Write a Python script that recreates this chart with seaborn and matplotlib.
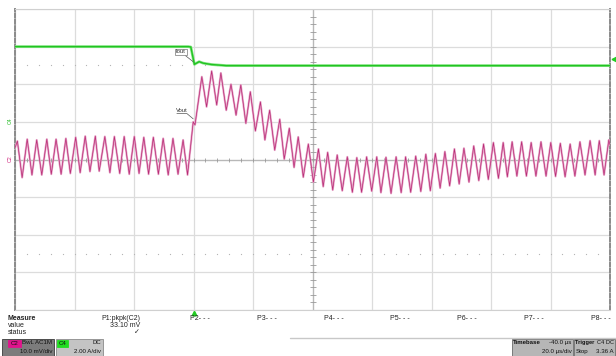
import numpy as np
import pandas as pd
import matplotlib
matplotlib.use("Agg")
import matplotlib.pyplot as plt
from matplotlib.patches import Rectangle
import seaborn as sns

# ---------------- data ----------------
# C2: Vout (AC coupled), time in microseconds, value in mV (peaks/troughs of the ripple)
t_vout_us = [-60.0, -59.2, -57.6, -55.9, -54.3, -52.7, -51.0, -49.3, -47.8, -46.2,
             -44.5, -42.9, -41.4, -39.6, -38.1, -36.4, -34.8, -33.0, -31.7, -29.8,
             -28.1, -26.6, -24.8, -23.3, -21.6, -19.9, -18.3, -16.7, -15.1, -13.5,
             -11.8, -10.2, -8.5, -6.9, -5.2, -3.5, -2.0, -0.1, 0.5, 2.8,
             4.4, 6.1, 7.8, 9.2, 11.0, 12.6, 14.3, 15.9, 17.6, 19.1,
             20.8, 22.5, 24.0, 25.6, 27.3, 29.0, 30.5, 32.2, 33.8, 35.2,
             36.9, 38.6, 40.3, 42.0, 43.6, 45.1, 46.8, 48.3, 50.0, 51.7,
             53.4, 54.9, 56.5, 58.2, 59.9, 61.6, 63.0, 64.7, 66.4, 68.1,
             69.8, 71.3, 73.0, 74.7, 76.4, 78.1, 79.6, 81.3, 82.9, 84.5,
             86.1, 87.7, 89.3, 90.9, 92.6, 94.2, 95.9, 97.5, 99.1, 100.8,
             102.5, 104.1, 105.5, 107.1, 108.7, 110.3, 111.9, 113.5, 115.1, 116.8,
             118.5, 120.1, 121.7, 123.3, 124.9, 126.6, 128.2, 129.9, 131.6, 133.3,
             135.0, 136.4, 138.0, 139.6, 140.0]
vout_mV = [3.1, 4.9, -4.8, 5.4, -4.1, 5.2, -4.1, 5.4, -3.9, 5.4,
           -3.9, 5.6, -3.7, 5.9, -3.5, 6.2, -3.2, 6.2, -3.1, 6.1,
           -3.5, 6.1, -3.7, 6.1, -3.9, 6.1, -3.7, 5.9, -3.9, 5.9,
           -3.9, 5.6, -4.1, 5.6, -3.9, 5.2, -4.1, 10.0, 9.2, 22.0,
           14.0, 23.5, 14.5, 23.0, 13.1, 20.0, 11.8, 19.8, 9.6, 18.0,
           7.6, 15.3, 5.2, 13.1, 2.5, 10.7, 0.1, 8.3, -2.1, 6.0,
           -4.7, 4.1, -6.0, 2.8, -7.2, 1.9, -8.1, 1.2, -8.3, 0.7,
           -8.7, 0.5, -8.7, 0.7, -8.4, 0.7, -8.8, 0.6, -9.0, 0.7,
           -8.8, 0.7, -8.7, 0.9, -8.5, 1.4, -8.3, 1.6, -7.6, 2.1,
           -7.0, 2.8, -6.5, 3.0, -6.0, 3.6, -5.6, 4.1, -5.3, 4.5,
           -5.0, 4.5, -4.6, 4.7, -4.4, 4.7, -4.4, 4.5, -4.4, 4.7,
           -4.4, 4.5, -4.5, 4.3, -4.6, 4.1, -4.4, 4.7, -4.1, 5.0,
           -4.1, 5.0, -4.1, 5.2, 3.9]

# C4: Iout (DC), time in microseconds, value in A
t_iout_us = [-60.0, -1.7, -0.9, 0.3, 1.9, 3.3, 6.0, 11.0, 140.0]
iout_A = [4.00, 4.00, 3.98, 3.06, 3.20, 3.12, 3.05, 2.99, 2.99]

# scope settings
c2_scale_mV_div = 10.0
c4_scale_A_div = 2.0
c2_offset_div = 0.0
c4_offset_div = 1.0
time_scale_us_div = 20.0
time_left_us = -60.0
trigger_level_A = 3.36

measure_labels = ["P1:pkpk(C2)", "P2- - -", "P3- - -", "P4- - -",
                  "P5- - -", "P6- - -", "P7- - -", "P8- - -"]
measure_value = "33.10 mV"

assert len(t_vout_us) == len(vout_mV)

# ---------------- build frames ----------------
df_c2 = pd.DataFrame({"t": t_vout_us,
                      "div": np.array(vout_mV) / c2_scale_mV_div + c2_offset_div})
df_c4 = pd.DataFrame({"t": t_iout_us,
                      "div": np.array(iout_A) / c4_scale_A_div + c4_offset_div})

sns.set_theme(style="white")
plt.rcParams['font.family'] = ['Liberation Sans', 'DejaVu Sans']

W, H = 616, 356
fig = plt.figure(figsize=(W / 100, H / 100), dpi=100)
fig.patch.set_facecolor("white")

def fx(x):
    return x / W

def fy(y):
    return 1 - y / H

ax = fig.add_axes([fx(15), fy(310), (610 - 15) / W, (310 - 9) / H])
t_right = time_left_us + 10 * time_scale_us_div
ax.set_xlim(time_left_us, t_right)
ax.set_ylim(-4, 4)
ax.set_xticks(np.arange(time_left_us, t_right + 1, time_scale_us_div))
ax.set_yticks(np.arange(-4, 5, 1))
ax.grid(True, color="#dcdcdc", lw=0.9)
ax.tick_params(length=0, labelbottom=False, labelleft=False)

t_center = time_left_us + 5 * time_scale_us_div
ax.axhline(0, color="#b8b8b8", lw=0.9, zorder=1)
ax.axvline(t_center, color="#b8b8b8", lw=0.9, zorder=1)
# minor ticks on the centre lines
ym = np.arange(-4, 4.01, 0.2)
ax.plot([t_center] * len(ym), ym, ls="none", marker="_", ms=4, mew=0.6, color="#9a9a9a", zorder=1)
xm = np.arange(time_left_us, t_right + 0.01, time_scale_us_div / 5)
ax.plot(xm, [0] * len(xm), ls="none", marker="|", ms=2.5, mew=0.6, color="#9a9a9a", zorder=1)
for yy in (2.5, -2.5):
    ax.plot(xm, [yy] * len(xm), ls="none", marker="s", ms=0.8, mew=0, color="#b5b5b5", zorder=1)

for side in ("left", "right"):
    ax.spines[side].set_linestyle((0, (2.0, 1.2)))
    ax.spines[side].set_color("#8a8a8a")
    ax.spines[side].set_linewidth(1.4)
for side in ("top", "bottom"):
    ax.spines[side].set_color("#d0d0d0")
    ax.spines[side].set_linewidth(0.8)

# traces
sns.lineplot(data=df_c2, x="t", y="div", sort=False, estimator=None, ax=ax,
             color="#e7a3c7", lw=1.5, legend=False, zorder=3)
sns.lineplot(data=df_c2, x="t", y="div", sort=False, estimator=None, ax=ax,
             color="#b72a74", lw=0.5, legend=False, zorder=4)
sns.lineplot(data=df_c4, x="t", y="div", sort=False, estimator=None, ax=ax,
             color="#86e686", lw=2.0, legend=False, zorder=3)
sns.lineplot(data=df_c4, x="t", y="div", sort=False, estimator=None, ax=ax,
             color="#22c322", lw=1.0, legend=False, zorder=4)
ax.set_xlabel("")
ax.set_ylabel("")

# trigger markers
ax.plot([t_right + 1.2], [trigger_level_A / c4_scale_A_div + c4_offset_div], marker="<",
        ms=3.5, color="#22cc22", clip_on=False, ls="none")
ax.plot([0], [-4.08], marker="^", ms=3.2, color="#22cc22", clip_on=False, ls="none")

# trace labels
ax.annotate("Iout", xy=(0.2, 2.58), xytext=(-4.3, 2.86), fontsize=4.2, color="#333333",
            ha="center", va="center",
            bbox=dict(boxstyle="square,pad=0.15", fc="white", ec="#777777", lw=0.5),
            arrowprops=dict(arrowstyle="-", color="#555555", lw=0.5, shrinkA=0, shrinkB=0))
ax.text(-3.9, 1.31, "Vout", fontsize=4.2, color="#333333", ha="center", va="center", zorder=6)
ax.plot([-5.6, -2.2, -0.1], [1.22, 1.22, 1.08], color="#555555", lw=0.5, zorder=6)

# channel ground markers
fig.text(fx(10), fy(121), "C4", fontsize=3.8, color="#22bb22", rotation=90, ha="center", va="center")
fig.text(fx(10), fy(159), "C2", fontsize=3.8, color="#d0207a", rotation=90, ha="center", va="center")

# ---------------- measurement panel ----------------
fs = 5
fig.text(fx(8), fy(319), "Measure", fontsize=fs, fontweight="bold", va="center", color="#222222")
fig.text(fx(8), fy(325.5), "value", fontsize=fs, va="center", color="#222222")
fig.text(fx(8), fy(332), "status", fontsize=fs, va="center", color="#222222")
fig.text(fx(140), fy(319), measure_labels[0], fontsize=fs, ha="right", va="center", color="#222222")
fig.text(fx(140), fy(325.5), measure_value, fontsize=fs, ha="right", va="center", color="#222222")
fig.text(fx(136.5), fy(332), "\u2713", fontsize=fs, ha="center", va="center", color="#222222",
         family=["DejaVu Sans"])
for k, lab in enumerate(measure_labels[1:]):
    fig.text(fx(190 + 66.8 * k), fy(319), lab, fontsize=fs, ha="left", va="center", color="#222222")

fig.add_artist(plt.Line2D([fx(290), fx(616)], [fy(338), fy(338)], color="#c8c8c8", lw=1.0))

def box(x0, y0, x1, y1, fc, ec="#5a5a5a", lw=0.6):
    fig.add_artist(Rectangle((fx(x0), fy(y1)), fx(x1) - fx(x0), fy(y0) - fy(y1),
                             transform=fig.transFigure, fc=fc, ec=ec, lw=lw))

bfs = 4.4
# channel boxes
box(2, 338.5, 54, 357, "#7c7c7c", ec="#3a3a3a")
box(8, 340, 21, 346.5, "#e0148c", ec="#e0148c")
fig.text(fx(14.5), fy(343.3), "C2", fontsize=bfs, ha="center", va="center", color="#111111")
fig.text(fx(52.5), fy(342.5), "BwL AC1M", fontsize=bfs, ha="right", va="center", color="#111111")
fig.text(fx(52.5), fy(351.5), "10.0 mV/div", fontsize=bfs, ha="right", va="center", color="#111111")

box(55.5, 338.5, 103, 357, "#c4c4c4", ec="#8a8a8a")
box(57, 340, 68, 346.5, "#22dd22", ec="#22dd22")
fig.text(fx(62.5), fy(343.3), "C4", fontsize=bfs, ha="center", va="center", color="#111111")
fig.text(fx(101.5), fy(342.5), "DC", fontsize=bfs, ha="right", va="center", color="#111111")
fig.text(fx(101.5), fy(351.5), "2.00 A/div", fontsize=bfs, ha="right", va="center", color="#111111")

# timebase / trigger boxes
box(511.5, 338.5, 573, 357, "#b6b6b6", ec="#6a6a6a")
box(574, 338.5, 615, 357, "#b6b6b6", ec="#6a6a6a")
fig.text(fx(513), fy(342.5), "Timebase", fontsize=bfs, fontweight="bold", ha="left", va="center", color="#111111")
fig.text(fx(571.5), fy(342.5), "-40.0 \u00b5s", fontsize=bfs, ha="right", va="center", color="#111111")
fig.text(fx(571.5), fy(351.5), "20.0 \u00b5s/div", fontsize=bfs, ha="right", va="center", color="#111111")
fig.text(fx(575.3), fy(342.5), "Trigger", fontsize=4.1, fontweight="bold", ha="left", va="center", color="#111111")
fig.text(fx(614), fy(342.5), "C4 DC", fontsize=4.1, ha="right", va="center", color="#111111")
fig.text(fx(575.3), fy(351.5), "Stop", fontsize=bfs, ha="left", va="center", color="#111111")
fig.text(fx(614), fy(351.5), "3.36 A", fontsize=bfs, ha="right", va="center", color="#111111")

fig.savefig("out.png", dpi=100, facecolor="white")
